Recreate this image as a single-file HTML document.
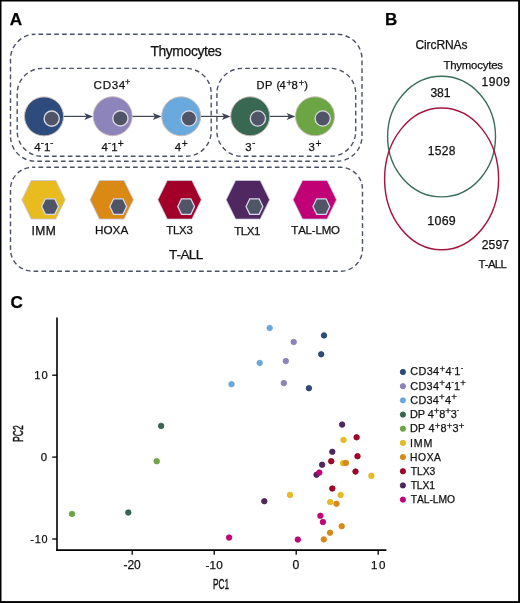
<!DOCTYPE html>
<html><head><meta charset="utf-8"><style>
html,body{margin:0;padding:0;background:#fff;}
body{width:520px;height:603px;overflow:hidden;font-family:"Liberation Sans", sans-serif;}
svg{display:block;will-change:transform;}
text{font-family:"Liberation Sans", sans-serif;fill:#111;stroke:#111;stroke-width:0.25px;font-kerning:none;}
</style></head><body>
<svg width="520" height="603" viewBox="0 0 520 603">
<rect x="0" y="0" width="520" height="603" fill="#fff"/>

<text x="9.87" y="24.90" font-size="17.15" letter-spacing="0.00" font-weight="bold" style="fill:#000">A</text>
<text x="384.96" y="24.80" font-size="17.01" letter-spacing="0.00" font-weight="bold" style="fill:#000">B</text>
<text x="10.5" y="308.2" font-size="17.1" font-weight="bold" style="fill:#000">C</text>
<rect x="10.5" y="34.2" width="351.50" height="127.00" rx="25" ry="25" fill="none" stroke="#4b5166" stroke-width="1.4" stroke-dasharray="4.7 3.18" stroke-dashoffset="4.95"/>
<rect x="17.2" y="68.4" width="194.00" height="87.90" rx="25" ry="25" fill="none" stroke="#4b5166" stroke-width="1.4" stroke-dasharray="4.7 3.18" stroke-dashoffset="4.58"/>
<rect x="216.9" y="68.4" width="138.80" height="87.90" rx="25" ry="25" fill="none" stroke="#4b5166" stroke-width="1.4" stroke-dasharray="4.7 3.18" stroke-dashoffset="4.58"/>
<rect x="10.5" y="167.3" width="352.00" height="103.90" rx="22" ry="22" fill="none" stroke="#4b5166" stroke-width="1.4" stroke-dasharray="4.7 3.18" stroke-dashoffset="1.91"/>
<text x="150.39" y="55.80" font-size="13.89" letter-spacing="-0.38">Thymocytes</text>
<text x="93.61" y="88.79" font-size="11.65" letter-spacing="0.61">CD34</text>
<text x="125.05" y="85.41" font-size="9.20" letter-spacing="0.00">+</text>
<text x="256.39" y="89.20" font-size="11.05" letter-spacing="0.64">DP</text>
<text x="276.6" y="89.2" font-size="11">(</text>
<text x="279.45" y="89.20" font-size="11.05" letter-spacing="0.00">4</text>
<text x="286.45" y="86.31" font-size="9.20" letter-spacing="0.00">+</text>
<text x="291.41" y="89.29" font-size="11.30" letter-spacing="0.00">8</text>
<text x="298.75" y="86.31" font-size="9.20" letter-spacing="0.00">+</text>
<text x="304.2" y="89.2" font-size="11">)</text>
<line x1="63.5" y1="116.4" x2="90.1" y2="116.4" stroke="#3f4458" stroke-width="1.2"/>
<path d="M93.1 116.4 L84.3 112.9 L86.5 116.4 L84.3 119.9 Z" fill="#3f4458"/>
<line x1="132.2" y1="116.4" x2="158.6" y2="116.4" stroke="#3f4458" stroke-width="1.2"/>
<path d="M161.6 116.4 L152.79999999999998 112.9 L155.0 116.4 L152.79999999999998 119.9 Z" fill="#3f4458"/>
<line x1="200.7" y1="116.4" x2="227.6" y2="116.4" stroke="#3f4458" stroke-width="1.2"/>
<path d="M230.6 116.4 L221.79999999999998 112.9 L224.0 116.4 L221.79999999999998 119.9 Z" fill="#3f4458"/>
<line x1="269.7" y1="116.4" x2="292.4" y2="116.4" stroke="#3f4458" stroke-width="1.2"/>
<path d="M295.4 116.4 L286.59999999999997 112.9 L288.79999999999995 116.4 L286.59999999999997 119.9 Z" fill="#3f4458"/>
<circle cx="44" cy="116.4" r="19.5" fill="#2d4b7c" stroke="#cabdb8" stroke-width="1"/>
<circle cx="51.7" cy="118.60000000000001" r="7.6" fill="#4f5567" stroke="#d9d6e2" stroke-width="1.4"/>
<circle cx="112.7" cy="116.2" r="19.5" fill="#8c84bb" stroke="#cabdb8" stroke-width="1"/>
<circle cx="120.4" cy="118.4" r="7.6" fill="#4f5567" stroke="#d9d6e2" stroke-width="1.4"/>
<circle cx="181.2" cy="116.3" r="19.5" fill="#6aa9de" stroke="#cabdb8" stroke-width="1"/>
<circle cx="188.89999999999998" cy="118.5" r="7.6" fill="#4f5567" stroke="#d9d6e2" stroke-width="1.4"/>
<circle cx="250.2" cy="116.3" r="19.5" fill="#386752" stroke="#cabdb8" stroke-width="1"/>
<circle cx="257.9" cy="118.5" r="7.6" fill="#4f5567" stroke="#d9d6e2" stroke-width="1.4"/>
<circle cx="315" cy="116.3" r="19.5" fill="#6ca543" stroke="#cabdb8" stroke-width="1"/>
<circle cx="322.7" cy="118.5" r="7.6" fill="#4f5567" stroke="#d9d6e2" stroke-width="1.4"/>
<text x="34.34" y="150.80" font-size="11.4" letter-spacing="0.07"><tspan y="150.80">4</tspan><tspan y="145.87" font-size="9.3">-</tspan><tspan y="150.80">1</tspan><tspan y="145.87" font-size="9.3">-</tspan></text>
<text x="101.49" y="150.80" font-size="11.4" letter-spacing="0.19"><tspan y="150.80">4</tspan><tspan y="145.87" font-size="9.3">-</tspan><tspan y="150.80">1</tspan><tspan y="146.99" font-size="10.2">+</tspan></text>
<text x="174.84" y="150.80" font-size="11.4" letter-spacing="0.67"><tspan y="150.80">4</tspan><tspan y="146.99" font-size="10.2">+</tspan></text>
<text x="245.27" y="150.80" font-size="11.4" letter-spacing="0.71"><tspan y="150.80">3</tspan><tspan y="145.87" font-size="9.3">-</tspan></text>
<text x="308.47" y="150.80" font-size="11.4" letter-spacing="0.74"><tspan y="150.80">3</tspan><tspan y="146.99" font-size="10.2">+</tspan></text>
<polygon points="21.80,199.80 31.20,180.50 55.80,180.50 65.20,199.80 55.80,219.10 31.20,219.10" fill="#e8bb1f" stroke="#c9c9de" stroke-width="0.8"/>
<polygon points="41.65,206.55 45.35,198.80 54.75,198.80 58.45,206.55 54.75,214.30 45.35,214.30" fill="#4f5567" stroke="#d6d8ec" stroke-width="1.3"/>
<polygon points="90.00,199.80 99.40,180.50 124.00,180.50 133.40,199.80 124.00,219.10 99.40,219.10" fill="#da8915" stroke="#c9c9de" stroke-width="0.8"/>
<polygon points="109.85,206.55 113.55,198.80 122.95,198.80 126.65,206.55 122.95,214.30 113.55,214.30" fill="#4f5567" stroke="#d6d8ec" stroke-width="1.3"/>
<polygon points="157.90,199.80 167.30,180.50 191.90,180.50 201.30,199.80 191.90,219.10 167.30,219.10" fill="#a30029" stroke="#c9c9de" stroke-width="0.8"/>
<polygon points="177.75,206.55 181.45,198.80 190.85,198.80 194.55,206.55 190.85,214.30 181.45,214.30" fill="#4f5567" stroke="#d6d8ec" stroke-width="1.3"/>
<polygon points="226.20,199.80 235.60,180.50 260.20,180.50 269.60,199.80 260.20,219.10 235.60,219.10" fill="#512761" stroke="#c9c9de" stroke-width="0.8"/>
<polygon points="246.05,206.55 249.75,198.80 259.15,198.80 262.85,206.55 259.15,214.30 249.75,214.30" fill="#4f5567" stroke="#d6d8ec" stroke-width="1.3"/>
<polygon points="293.10,199.80 302.50,180.50 327.10,180.50 336.50,199.80 327.10,219.10 302.50,219.10" fill="#c20076" stroke="#c9c9de" stroke-width="0.8"/>
<polygon points="312.95,206.55 316.65,198.80 326.05,198.80 329.75,206.55 326.05,214.30 316.65,214.30" fill="#4f5567" stroke="#d6d8ec" stroke-width="1.3"/>
<text x="31.49" y="234.60" font-size="12.06" letter-spacing="0.38">IMM</text>
<text x="95.04" y="234.39" font-size="11.72" letter-spacing="-0.01">HOXA</text>
<text x="166.24" y="234.39" font-size="11.41" letter-spacing="-0.24">TLX3</text>
<text x="234.24" y="234.50" font-size="11.53" letter-spacing="-0.41">TLX1</text>
<text x="291.34" y="234.49" font-size="11.47" letter-spacing="-0.18">TAL-LMO</text>
<text x="168.90" y="258.80" font-size="13.57" letter-spacing="-0.65">T-ALL</text>
<ellipse cx="441.55" cy="136.6" rx="53.95" ry="60.3" fill="none" stroke="#3b6d58" stroke-width="1.4"/>
<ellipse cx="441.6" cy="178.9" rx="57" ry="70.8" fill="none" stroke="#a5163e" stroke-width="1.45"/>
<text x="415.39" y="49.28" font-size="12.01" letter-spacing="-0.08">CircRNAs</text>
<text x="443.44" y="69.10" font-size="11.42" letter-spacing="-0.21">Thymocytes</text>
<text x="481.49" y="85.58" font-size="12.01" letter-spacing="0.56">1909</text>
<text x="430.44" y="96.58" font-size="12.15" letter-spacing="-0.11">381</text>
<text x="427.79" y="155.08" font-size="12.01" letter-spacing="0.34">1528</text>
<text x="427.35" y="224.68" font-size="12.43" letter-spacing="0.26">1069</text>
<text x="481.69" y="248.68" font-size="12.15" letter-spacing="0.13">2597</text>
<text x="478.49" y="267.50" font-size="11.38" letter-spacing="-0.65">T-ALL</text>
<line x1="57.0" y1="317.4" x2="57.0" y2="550.9" stroke="#000" stroke-width="1.6"/>
<line x1="56.2" y1="550.1" x2="386.4" y2="550.1" stroke="#000" stroke-width="1.6"/>
<line x1="52.2" y1="375.20" x2="57" y2="375.20" stroke="#000" stroke-width="1.3"/>
<line x1="52.2" y1="457.10" x2="57" y2="457.10" stroke="#000" stroke-width="1.3"/>
<line x1="52.2" y1="539.00" x2="57" y2="539.00" stroke="#000" stroke-width="1.3"/>
<line x1="132.20" y1="550" x2="132.20" y2="554.8" stroke="#000" stroke-width="1.3"/>
<line x1="214.20" y1="550" x2="214.20" y2="554.8" stroke="#000" stroke-width="1.3"/>
<line x1="296.20" y1="550" x2="296.20" y2="554.8" stroke="#000" stroke-width="1.3"/>
<line x1="378.20" y1="550" x2="378.20" y2="554.8" stroke="#000" stroke-width="1.3"/>
<text x="34.25" y="378.99" font-size="11.16" letter-spacing="1.07">10</text>
<text x="40.75" y="460.69" font-size="11.44" letter-spacing="0.00">0</text>
<text x="30.32" y="542.59" font-size="10.88" letter-spacing="0.79">-10</text>
<text x="123.57" y="569.18" font-size="12.01" letter-spacing="-0.12">-20</text>
<text x="205.48" y="569.19" font-size="11.72" letter-spacing="0.22">-10</text>
<text x="292.43" y="569.48" font-size="12.15" letter-spacing="0.00">0</text>
<text x="371.12" y="569.09" font-size="11.58" letter-spacing="1.35">10</text>
<text transform="translate(221.0,588.9) scale(0.585,1)" x="0" y="0" font-size="14.2" text-anchor="middle" style="stroke:#141414;stroke-width:0.45">PC1</text>
<text transform="translate(22.7,433.6) rotate(-90) scale(0.585,1)" x="0" y="0" font-size="14.6" text-anchor="middle" style="stroke:#141414;stroke-width:0.45">PC2</text>
<circle cx="269.7" cy="328.0" r="2.75" fill="#6aa9de" stroke="#65a2d5" stroke-width="0.8"/>
<circle cx="324.0" cy="335.4" r="2.75" fill="#2d4b7c" stroke="#263f69" stroke-width="0.8"/>
<circle cx="293.7" cy="342.0" r="2.75" fill="#8c84bb" stroke="#867eb3" stroke-width="0.8"/>
<circle cx="321.2" cy="354.3" r="2.75" fill="#2d4b7c" stroke="#263f69" stroke-width="0.8"/>
<circle cx="285.8" cy="361.1" r="2.75" fill="#8c84bb" stroke="#867eb3" stroke-width="0.8"/>
<circle cx="259.7" cy="362.9" r="2.75" fill="#6aa9de" stroke="#65a2d5" stroke-width="0.8"/>
<circle cx="283.8" cy="383.1" r="2.75" fill="#8c84bb" stroke="#867eb3" stroke-width="0.8"/>
<circle cx="308.9" cy="388.2" r="2.75" fill="#2d4b7c" stroke="#263f69" stroke-width="0.8"/>
<circle cx="231.5" cy="384.2" r="2.75" fill="#6aa9de" stroke="#65a2d5" stroke-width="0.8"/>
<circle cx="161.1" cy="425.9" r="2.75" fill="#386752" stroke="#2f5745" stroke-width="0.8"/>
<circle cx="156.7" cy="461.2" r="2.75" fill="#6ca543" stroke="#679e40" stroke-width="0.8"/>
<circle cx="72.0" cy="513.9" r="2.75" fill="#6ca543" stroke="#679e40" stroke-width="0.8"/>
<circle cx="128.3" cy="512.5" r="2.75" fill="#386752" stroke="#2f5745" stroke-width="0.8"/>
<circle cx="342.1" cy="424.6" r="2.75" fill="#512761" stroke="#442152" stroke-width="0.8"/>
<circle cx="356.6" cy="437.3" r="2.75" fill="#a30029" stroke="#8a0022" stroke-width="0.8"/>
<circle cx="343.5" cy="439.9" r="2.75" fill="#e8bb1f" stroke="#deb31d" stroke-width="0.8"/>
<circle cx="332.3" cy="451.8" r="2.75" fill="#512761" stroke="#442152" stroke-width="0.8"/>
<circle cx="357.5" cy="456.2" r="2.75" fill="#a30029" stroke="#8a0022" stroke-width="0.8"/>
<circle cx="331.2" cy="461.2" r="2.75" fill="#a30029" stroke="#8a0022" stroke-width="0.8"/>
<circle cx="343.1" cy="463.2" r="2.75" fill="#e8bb1f" stroke="#deb31d" stroke-width="0.8"/>
<circle cx="345.9" cy="462.9" r="2.75" fill="#da8915" stroke="#d18314" stroke-width="0.8"/>
<circle cx="322.1" cy="464.7" r="2.75" fill="#512761" stroke="#442152" stroke-width="0.8"/>
<circle cx="316.5" cy="474.8" r="2.75" fill="#512761" stroke="#442152" stroke-width="0.8"/>
<circle cx="319.3" cy="472.6" r="2.75" fill="#c20076" stroke="#ba0071" stroke-width="0.8"/>
<circle cx="355.5" cy="471.6" r="2.75" fill="#a30029" stroke="#8a0022" stroke-width="0.8"/>
<circle cx="371.4" cy="475.8" r="2.75" fill="#e8bb1f" stroke="#deb31d" stroke-width="0.8"/>
<circle cx="290.0" cy="494.9" r="2.75" fill="#e8bb1f" stroke="#deb31d" stroke-width="0.8"/>
<circle cx="264.3" cy="501.2" r="2.75" fill="#512761" stroke="#442152" stroke-width="0.8"/>
<circle cx="332.3" cy="488.5" r="2.75" fill="#a30029" stroke="#8a0022" stroke-width="0.8"/>
<circle cx="340.6" cy="495.0" r="2.75" fill="#e8bb1f" stroke="#deb31d" stroke-width="0.8"/>
<circle cx="330.2" cy="502.1" r="2.75" fill="#e8bb1f" stroke="#deb31d" stroke-width="0.8"/>
<circle cx="336.5" cy="503.8" r="2.75" fill="#da8915" stroke="#d18314" stroke-width="0.8"/>
<circle cx="320.4" cy="515.8" r="2.75" fill="#c20076" stroke="#ba0071" stroke-width="0.8"/>
<circle cx="322.9" cy="522.1" r="2.75" fill="#c20076" stroke="#ba0071" stroke-width="0.8"/>
<circle cx="341.7" cy="526.2" r="2.75" fill="#da8915" stroke="#d18314" stroke-width="0.8"/>
<circle cx="330.0" cy="532.7" r="2.75" fill="#da8915" stroke="#d18314" stroke-width="0.8"/>
<circle cx="297.8" cy="539.6" r="2.75" fill="#c20076" stroke="#ba0071" stroke-width="0.8"/>
<circle cx="323.8" cy="539.4" r="2.75" fill="#da8915" stroke="#d18314" stroke-width="0.8"/>
<circle cx="229.1" cy="537.6" r="2.75" fill="#c20076" stroke="#ba0071" stroke-width="0.8"/>
<circle cx="402.9" cy="372.00" r="2.65" fill="#2d4b7c" stroke="#263f69" stroke-width="0.8"/>
<text x="410.35" y="375.40" font-size="10.9" letter-spacing="0.31"><tspan y="375.40">CD34</tspan><tspan y="371.73" font-size="9.7">+</tspan><tspan y="375.40">4</tspan><tspan y="369.71" font-size="6.8">-</tspan><tspan y="375.40">1</tspan><tspan y="369.71" font-size="6.8">-</tspan></text>
<circle cx="402.9" cy="386.18" r="2.65" fill="#8c84bb" stroke="#867eb3" stroke-width="0.8"/>
<text x="410.35" y="389.60" font-size="10.9" letter-spacing="0.26"><tspan y="389.60">CD34</tspan><tspan y="385.93" font-size="9.7">+</tspan><tspan y="389.60">4</tspan><tspan y="383.91" font-size="6.8">-</tspan><tspan y="389.60">1</tspan><tspan y="385.93" font-size="9.7">+</tspan></text>
<circle cx="402.9" cy="400.36" r="2.65" fill="#6aa9de" stroke="#65a2d5" stroke-width="0.8"/>
<text x="410.35" y="403.80" font-size="10.9" letter-spacing="0.23"><tspan y="403.80">CD34</tspan><tspan y="400.13" font-size="9.7">+</tspan><tspan y="403.80">4</tspan><tspan y="400.13" font-size="9.7">+</tspan></text>
<circle cx="402.9" cy="414.54" r="2.65" fill="#386752" stroke="#2f5745" stroke-width="0.8"/>
<text x="410.01" y="418.00" font-size="10.9" letter-spacing="-0.11"><tspan y="418.00">DP 4</tspan><tspan y="414.33" font-size="9.7">+</tspan><tspan y="418.00">8</tspan><tspan y="414.33" font-size="9.7">+</tspan><tspan y="418.00">3</tspan><tspan y="412.31" font-size="6.8">-</tspan></text>
<circle cx="402.9" cy="428.72" r="2.65" fill="#6ca543" stroke="#679e40" stroke-width="0.8"/>
<text x="410.01" y="432.20" font-size="10.9" letter-spacing="0.14"><tspan y="432.20">DP 4</tspan><tspan y="428.53" font-size="9.7">+</tspan><tspan y="432.20">8</tspan><tspan y="428.53" font-size="9.7">+</tspan><tspan y="432.20">3</tspan><tspan y="428.53" font-size="9.7">+</tspan></text>
<circle cx="402.9" cy="442.90" r="2.65" fill="#e8bb1f" stroke="#deb31d" stroke-width="0.8"/>
<text x="409.92" y="446.70" font-size="10.61" letter-spacing="0.91">IMM</text>
<circle cx="402.9" cy="457.08" r="2.65" fill="#da8915" stroke="#d18314" stroke-width="0.8"/>
<text x="410.05" y="460.80" font-size="10.31" letter-spacing="0.58">HOXA</text>
<circle cx="402.9" cy="471.26" r="2.65" fill="#a30029" stroke="#8a0022" stroke-width="0.8"/>
<text x="410.67" y="475.00" font-size="10.31" letter-spacing="0.01">TLX3</text>
<circle cx="402.9" cy="485.44" r="2.65" fill="#512761" stroke="#442152" stroke-width="0.8"/>
<text x="410.67" y="489.30" font-size="10.39" letter-spacing="-0.17">TLX1</text>
<circle cx="402.9" cy="499.62" r="2.65" fill="#c20076" stroke="#ba0071" stroke-width="0.8"/>
<text x="410.67" y="503.40" font-size="10.31" letter-spacing="-0.03">TAL-LMO</text>
<rect x="0.75" y="0.75" width="518.25" height="601.25" fill="none" stroke="#000" stroke-width="1.5"/>
<rect x="518.5" y="0" width="1.5" height="603" fill="#000"/>
<rect x="0" y="601.4" width="520" height="1.6" fill="#000"/>
</svg></body></html>
